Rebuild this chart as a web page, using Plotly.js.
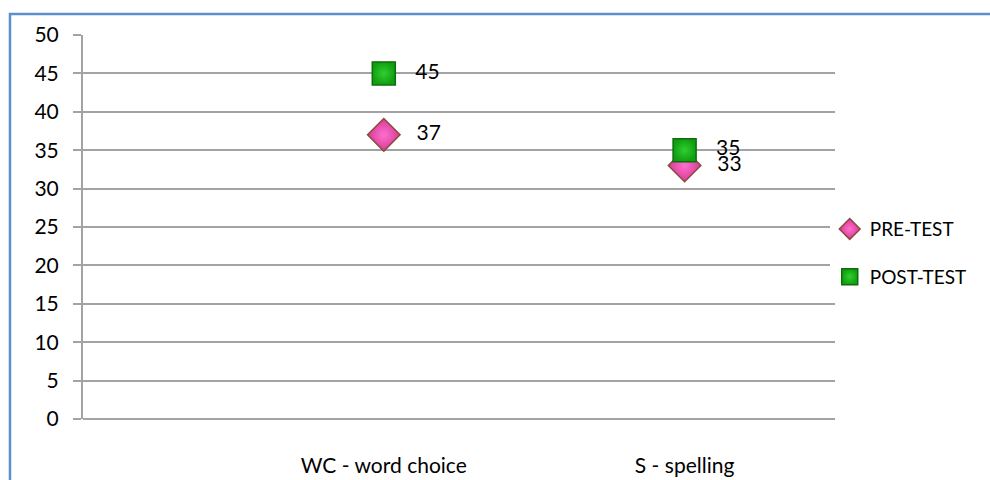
<!DOCTYPE html>
<html>
<head>
<meta charset="utf-8">
<script src="https://cdn.plot.ly/plotly-3.0.1.min.js"></script>
<style>
html,body{margin:0;padding:0;background:#fff;}
#chart{width:990px;height:480px;}
</style>
</head>
<body>
<div id="chart"></div>
<script>
const categories = ["WC - word choice", "S - spelling"];
const preTest = [37, 33];
const postTest = [45, 35];
const seriesNames = ["PRE-TEST", "POST-TEST"];
const yTicks = [0, 5, 10, 15, 20, 25, 30, 35, 40, 45, 50];

const idx = categories.map((c, i) => i);
const font = "Lato, 'Open Sans', 'Noto Sans', sans-serif";
const pad = "\u00a0\u00a0\u00a0";

const traces = [
  {
    x: idx, y: preTest, name: seriesNames[0], type: "scatter",
    mode: "markers+text", text: preTest.map(v => pad + v), textposition: "middle right",
    textfont: {family: font, size: 21, color: "#000"},
    marker: {symbol: "diamond", size: 25, color: "#d83a94",
             gradient: {type: "radial", color: "#ff6fd0"},
             line: {color: "#8a4b3d", width: 1.5}},
    legendgroup: "a", cliponaxis: false
  },
  {
    x: idx, y: postTest, name: seriesNames[1], type: "scatter",
    mode: "markers+text", text: postTest.map(v => pad + v), textposition: "middle right",
    textfont: {family: font, size: 21, color: "#000"},
    marker: {symbol: "square", size: 23, color: "#129e12",
             gradient: {type: "radial", color: "#2ed02e"},
             line: {color: "#0b6e0b", width: 1.5}},
    legendgroup: "b", cliponaxis: false
  }
];

const layout = {
  width: 990, height: 480,
  margin: {l: 83, r: 155, t: 35, b: 61},
  paper_bgcolor: "#fff", plot_bgcolor: "#fff",
  font: {family: font, size: 21, color: "#000"},
  showlegend: true,
  legend: {x: 0.993, xanchor: "left", y: 0.432, yanchor: "middle",
           font: {family: font, size: 19, color: "#000"},
           traceorder: "grouped", tracegroupgap: 20, itemwidth: 30},
  xaxis: {
    range: [-1, 1.5], tickmode: "array", tickvals: idx, ticktext: categories,
    showgrid: false, zeroline: false, showline: false, ticks: "",
    ticklabelstandoff: 32, tickfont: {family: font, size: 21, color: "#000"},
    fixedrange: true
  },
  yaxis: {
    range: [0, 50], tickmode: "array", tickvals: yTicks,
    showgrid: true, gridcolor: "#a3a3a3", gridwidth: 2,
    zeroline: true, zerolinecolor: "#a3a3a3", zerolinewidth: 2,
    showline: true, linecolor: "#a3a3a3", linewidth: 2,
    ticks: "outside", ticklen: 8, tickcolor: "#a3a3a3", tickwidth: 2,
    ticklabelstandoff: 10,
    tickfont: {family: font, size: 21, color: "#000"},
    fixedrange: true
  },
  shapes: [{
    type: "rect", xref: "paper", yref: "paper",
    x0: -0.0971, x1: 1.6, y0: -0.5, y1: 1.0547,
    line: {color: "#5b8fd0", width: 2.5}, fillcolor: "rgba(0,0,0,0)"
  }]
};

Plotly.newPlot("chart", traces, layout, {displayModeBar: false, staticPlot: true});
</script>
</body>
</html>
